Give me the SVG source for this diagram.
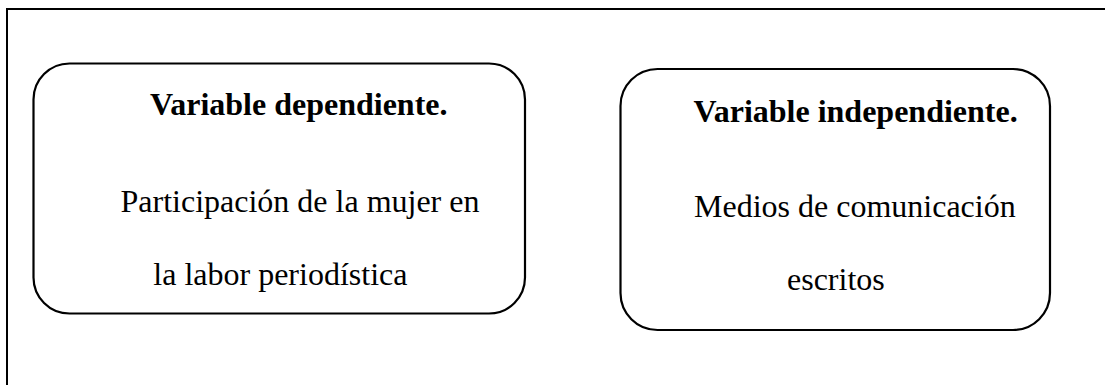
<svg xmlns="http://www.w3.org/2000/svg" width="1105" height="385" viewBox="0 0 1105 385">
  <style>
    .frame { fill: none; stroke: #000; stroke-width: 2; }
    .box { fill: #fff; stroke: #000; stroke-width: 2.2; }
    .t { font-family: "Liberation Serif", "Times New Roman", serif; font-size: 32px; fill: #000; }
    .b { font-weight: bold; }
  </style>
  <rect width="1105" height="385" fill="#fff"/>
  <rect class="frame" x="7" y="9" width="1110" height="390"/>
  <g id="connectors"></g>
  <g id="node-dependiente">
    <rect class="box" x="33.5" y="63.5" width="491.5" height="250" rx="36" ry="36"/>
    <text class="t b" x="150" y="115">Variable dependiente.</text>
    <text class="t" x="120.5" y="211.7">Participación de la mujer en</text>
    <text class="t" x="153.3" y="285">la labor periodística</text>
  </g>
  <g id="node-independiente">
    <rect class="box" x="620.5" y="69" width="429.5" height="261" rx="37" ry="37"/>
    <text class="t b" x="693.5" y="121.7">Variable independiente.</text>
    <text class="t" x="694" y="216.7">Medios de comunicación</text>
    <text class="t" x="787" y="290">escritos</text>
  </g>
</svg>
